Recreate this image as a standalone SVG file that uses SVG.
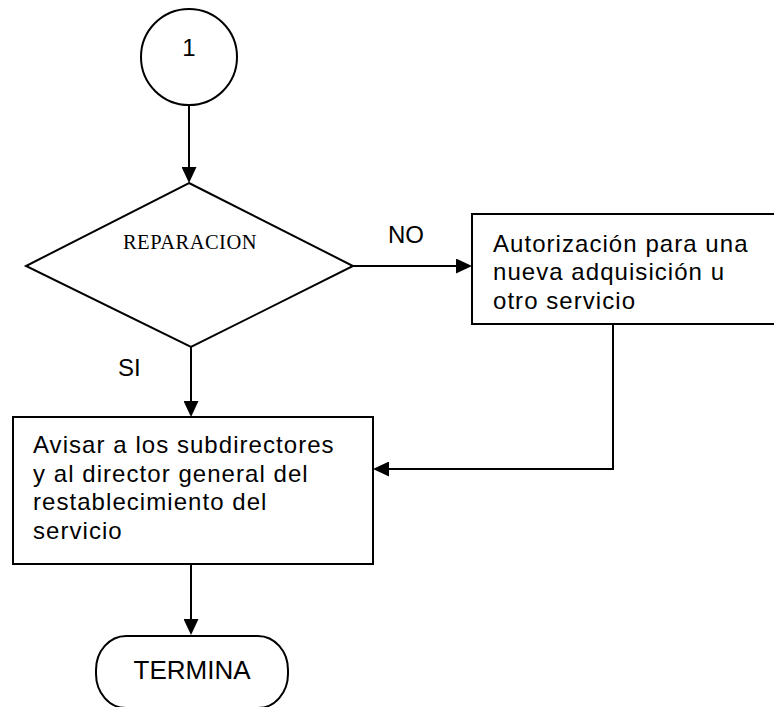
<svg xmlns="http://www.w3.org/2000/svg" width="774" height="707" viewBox="0 0 774 707">
<style>
.shape{fill:#fff;stroke:#000;stroke-width:2}
.conn{fill:none;stroke:#000;stroke-width:2}
.t{font-family:"Liberation Sans",Arial,sans-serif;font-size:24px;fill:#000}
.box{letter-spacing:1.05px}
.serif{font-family:"Liberation Serif","Times New Roman",serif;font-size:20.5px;letter-spacing:0.5px;fill:#000}
</style>
<defs>
<marker id="ah" markerUnits="userSpaceOnUse" markerWidth="16" markerHeight="15" viewBox="0 0 16 15" refX="12" refY="7.5" orient="auto">
<path d="M0,0 L16,7.5 L0,15 z" fill="#000"/>
</marker>
</defs>
<rect width="774" height="707" fill="#fff"/>
<g id="connectors">
<path class="conn" d="M189,105 L189,179" marker-end="url(#ah)"/>
<path class="conn" d="M353,266 L468,266" marker-end="url(#ah)"/>
<path class="conn" d="M191,347 L191,413" marker-end="url(#ah)"/>
<path class="conn" d="M613,324 L613,469 L377,469" marker-end="url(#ah)"/>
<path class="conn" d="M191,564 L191,631" marker-end="url(#ah)"/>
<text class="t" x="388" y="243">NO</text>
<text class="t" x="118" y="376">SI</text>
</g>
<g id="start">
<circle class="shape" cx="189" cy="57" r="48"/>
<text class="t" x="189" y="56" text-anchor="middle">1</text>
</g>
<g id="decision">
<polygon class="shape" points="189,183 353,266 191,347 26,266"/>
<text class="serif" x="190" y="249" text-anchor="middle">REPARACION</text>
</g>
<g id="autorizacion">
<rect class="shape" x="472" y="214" width="305" height="110"/>
<text class="t box" x="493" y="251.5">Autorización para una</text>
<text class="t box" x="493" y="280">nueva adquisición u</text>
<text class="t box" x="493" y="308.5">otro servicio</text>
</g>
<g id="avisar">
<rect class="shape" x="13" y="417" width="360" height="147"/>
<text class="t box" x="33" y="453">Avisar a los subdirectores</text>
<text class="t box" x="33" y="481.5">y al director general del</text>
<text class="t box" x="33" y="510">restablecimiento del</text>
<text class="t box" x="33" y="538.5">servicio</text>
</g>
<g id="termina">
<rect class="shape" x="96" y="636" width="192" height="72" rx="30" ry="34"/>
<text class="t" x="192" y="679" text-anchor="middle" style="font-size:26px">TERMINA</text>
</g>
</svg>
